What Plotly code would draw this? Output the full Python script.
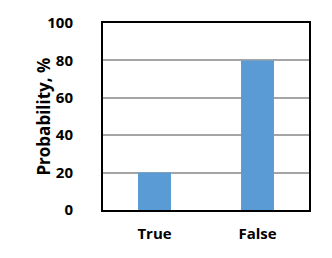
import plotly.graph_objects as go

categories = ["True", "False"]
values = [20, 80]
y_ticks = [0, 20, 40, 60, 80, 100]
y_title = "Probability, %"

font_family = "Open Sans, Liberation Sans, Arial"

fig = go.Figure(go.Bar(x=categories, y=values, marker_color="#5B9BD5",
                       marker_line_width=0, width=0.32))

fig.update_layout(
    width=332, height=258,
    margin=dict(l=103, r=23, t=23, b=48),
    paper_bgcolor="white", plot_bgcolor="white",
    showlegend=False,
    font=dict(family=font_family, size=15, color="black", weight="bold"),
)
fig.update_xaxes(
    showline=True, linecolor="black", linewidth=2, mirror=True,
    showgrid=False, ticks="", ticklabelstandoff=9,
    tickfont=dict(size=15, weight="bold"),
)
fig.update_yaxes(
    range=[0, 100], tickvals=y_ticks,
    showline=True, linecolor="black", linewidth=2, mirror=True,
    showgrid=True, gridcolor="#A5A5A5", gridwidth=2,
    zeroline=False, ticks="", ticklabelstandoff=25,
    tickfont=dict(size=15, weight="bold"),
)
fig.add_annotation(
    text=y_title, textangle=-90, xref="paper", yref="paper",
    x=-0.291, y=0.5, xanchor="center", yanchor="middle", showarrow=False,
    font=dict(size=17, weight="bold", color="black"),
)

fig.write_html("out.html")
